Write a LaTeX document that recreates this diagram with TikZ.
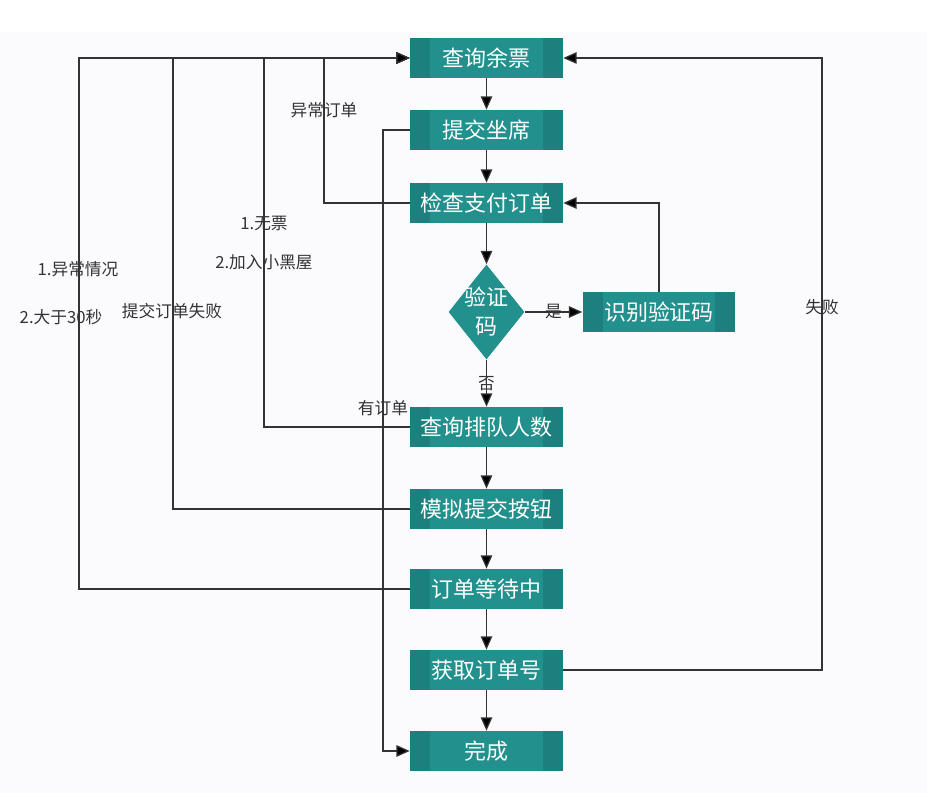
\documentclass[tikz,border=0pt]{standalone}
\usepackage{fontspec}
\setmainfont{Noto Sans CJK SC}
\definecolor{clTeal}{HTML}{22908C}
\definecolor{clTealDk}{HTML}{1C817E}
\definecolor{clLine}{HTML}{333333}
\definecolor{clBg}{HTML}{FBFBFE}
\usetikzlibrary{arrows.meta,shapes.geometric}

\begin{document}
\begin{tikzpicture}[x=0.02cm,y=-0.02cm,
  every node/.style={font=\fontsize{9.5}{11}\selectfont, text=clLine},
  stepbox/.style={fill=clTeal, minimum width=3.06cm, minimum height=0.8cm, inner sep=0pt,
    font=\fontsize{12.5}{15}\selectfont, text=white,
    path picture={\fill[clTealDk] (path picture bounding box.north west) rectangle ([xshift=0.4cm]path picture bounding box.south west);
      \fill[clTealDk] (path picture bounding box.north east) rectangle ([xshift=-0.4cm]path picture bounding box.south east);}},
  arr/.style={draw=clLine, line width=0.7pt, -{Triangle[length=7.5pt,width=6.5pt,fill=black]}}]
  % background
  \useasboundingbox (0,0) rectangle (927,793);
  \fill[white] (0,0) rectangle (927,793);
  \fill[clBg] (0,32) rectangle (927,793);
  % main column
  \node[stepbox] (cxyp) at (486.5,58) {查询余票};
  \node[stepbox] (tjzx) at (486.5,130) {提交坐席};
  \node[stepbox] (jczf) at (486.5,203) {检查支付订单};
  \node[diamond, fill=clTeal, minimum width=1.52cm, minimum height=1.9cm, inner sep=0pt] (yzm) at (486.5,312) {};
  \node[font=\fontsize{12.5}{16.5}\selectfont, text=white, align=center] (yzmtxt) at (yzm) {验证\\码};
  \node[stepbox] (sbyzm) at (659,312) {识别验证码};
  \node[stepbox] (cxpd) at (486.5,427) {查询排队人数};
  \node[stepbox] (mntj) at (486.5,509) {模拟提交按钮};
  \node[stepbox] (dddd) at (486.5,589) {订单等待中};
  \node[stepbox] (hqddh) at (486.5,670) {获取订单号};
  \node[stepbox] (wc) at (486.5,751) {完成};
  % routing points
  \coordinate (cA) at (324,58); \coordinate (cB) at (264,58);
  \coordinate (cC) at (173,58); \coordinate (cD) at (79,58);
  \coordinate (cE) at (383,130); \coordinate (cR) at (822,58);
  % flow
  \draw[arr] (cxyp) -- (tjzx);
  \draw[arr] (tjzx) -- (jczf);
  \draw[arr] (jczf) -- (yzm);
  \draw[arr] (yzm) -- node (lsy) {是} (sbyzm);
  \draw[arr] (sbyzm.north) |- (jczf.east);
  \draw[arr] (yzm) -- node (lsn) {否} (cxpd);
  \draw[arr] (cxpd) -- (mntj);
  \draw[arr] (mntj) -- (dddd);
  \draw[arr] (dddd) -- (hqddh);
  \draw[arr] (hqddh) -- (wc);
  % loops back
  \draw[arr] (hqddh) -| (cR) -- (cxyp);
  \draw[arr] (jczf) -| (cA) -- (cxyp);
  \draw[arr] (cxpd) -| (cB) -- (cxyp);
  \draw[arr] (mntj) -| (cC) -- (cxyp);
  \draw[arr] (dddd) -| (cD) -- (cxyp);
  \draw[arr] (tjzx) -- (cE) |- (wc);
  % labels
  \node (lycdd) at (324,110) {异常订单};
  \node (lwp) at (264,224) {1.无票};
  \node (lxhw) at (264,262) {2.加入小黑屋};
  \node (lycqk) at (78,269) {1.异常情况};
  \node (ldy30) at (61,317) {2.大于30秒};
  \node (ltjsb) at (172,311) {提交订单失败};
  \node (lydd) at (383,408) {有订单};
  \node (lsb) at (822,307) {失败};
\end{tikzpicture}
\end{document}
